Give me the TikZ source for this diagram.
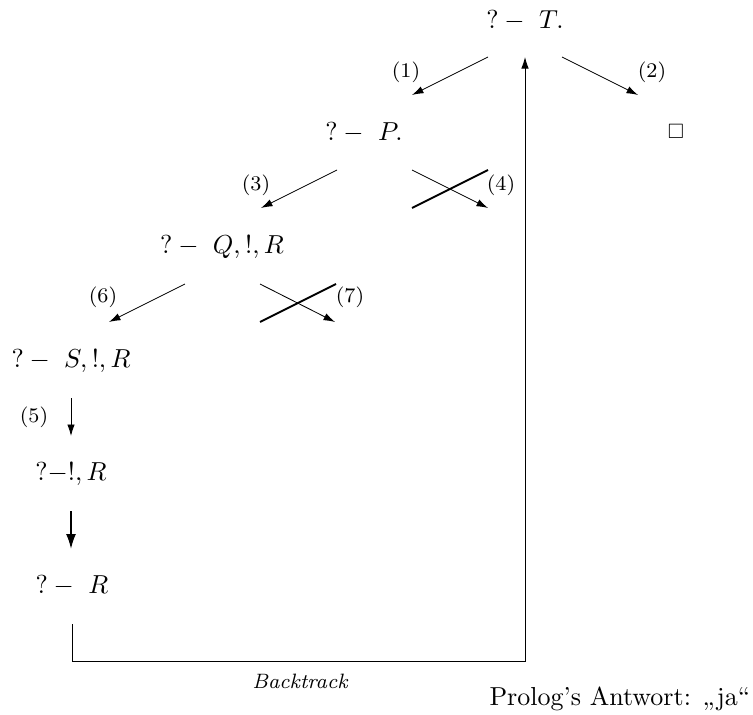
\documentclass[tikz,border=0pt]{standalone}
\usepackage{amssymb}
\usetikzlibrary{arrows.meta}
\begin{document}
\begin{tikzpicture}[x=1pt,y=-1pt,
  goal/.style={scale=2.6, inner sep=0pt, anchor=base},
  lab/.style={scale=2.6, font=\footnotesize, inner sep=0pt},
  edge/.style={line width=0.85pt, -{Latex[length=11.5pt,width=7.5pt]}},
  thickarr/.style={line width=1.8pt, -{Latex[length=15pt,width=10pt]}},
  cut/.style={line width=1.8pt},
  plain/.style={line width=0.85pt}]
\useasboundingbox (0,0) rectangle (753,715);
% goals
\node[goal] (T) at (525,28) {$?-\ T.$};
\node[goal] (P) at (364,140) {$?-\ P.$};
\node[scale=2.6, font=\footnotesize, inner sep=0pt] (E) at (676,131) {$\square$};
\node[goal] (Q) at (222,253) {$?-\ Q,!,R$};
\node[goal] (S) at (71,367) {$?-\ S,!,R$};
\node[goal] (C) at (71,480) {$?-!,R$};
\node[goal] (R) at (72,593) {$?-\ R$};
% edge endpoints
\coordinate (a1s) at (488,57); \coordinate (a1e) at (412,95);
\coordinate (a2s) at (562,57); \coordinate (a2e) at (638,95);
\coordinate (a3s) at (337,170); \coordinate (a3e) at (261,208);
\coordinate (a4s) at (412,170); \coordinate (a4e) at (488,208);
\coordinate (x4s) at (412,208); \coordinate (x4e) at (488,170);
\coordinate (a6s) at (185,284); \coordinate (a6e) at (109,322);
\coordinate (a7s) at (260,284); \coordinate (a7e) at (335,322);
\coordinate (x7s) at (260,322); \coordinate (x7e) at (336,284);
\coordinate (a5s) at (71,398); \coordinate (a5e) at (71,436);
\coordinate (b5s) at (71,511); \coordinate (b5e) at (71,549);
\coordinate (bt0) at (72,624); \coordinate (bt1) at (72,661);
\coordinate (bt2) at (525,661); \coordinate (bt3) at (525,57);
% edges
\draw[edge] (a1s) -- (a1e);
\draw[edge] (a2s) -- (a2e);
\draw[edge] (a3s) -- (a3e);
\draw[edge] (a4s) -- (a4e);
\draw[cut] (x4s) -- (x4e);
\draw[edge] (a6s) -- (a6e);
\draw[edge] (a7s) -- (a7e);
\draw[cut] (x7s) -- (x7e);
\draw[edge] (a5s) -- (a5e);
\draw[thickarr] (b5s) -- (b5e);
\draw[edge] (bt0) -- (bt1) -- (bt2) -- (bt3);
% labels
\node[lab] (l1) at (406,72) {(1)};
\node[lab] (l2) at (652,72) {(2)};
\node[lab] (l3) at (256,185) {(3)};
\node[lab] (l4) at (501,185) {(4)};
\node[lab] (l6) at (103,297) {(6)};
\node[lab] (l7) at (350,297) {(7)};
\node[lab] (l5) at (34,417) {(5)};
\node[scale=2.6, font=\footnotesize\itshape, inner sep=0pt, anchor=base] (bt) at (300,688) {Backtrack};
\node[scale=2.6, inner sep=0pt, anchor=base west] (ans) at (489,705) {Prolog's Antwort: „ja“};
\end{tikzpicture}
\end{document}
